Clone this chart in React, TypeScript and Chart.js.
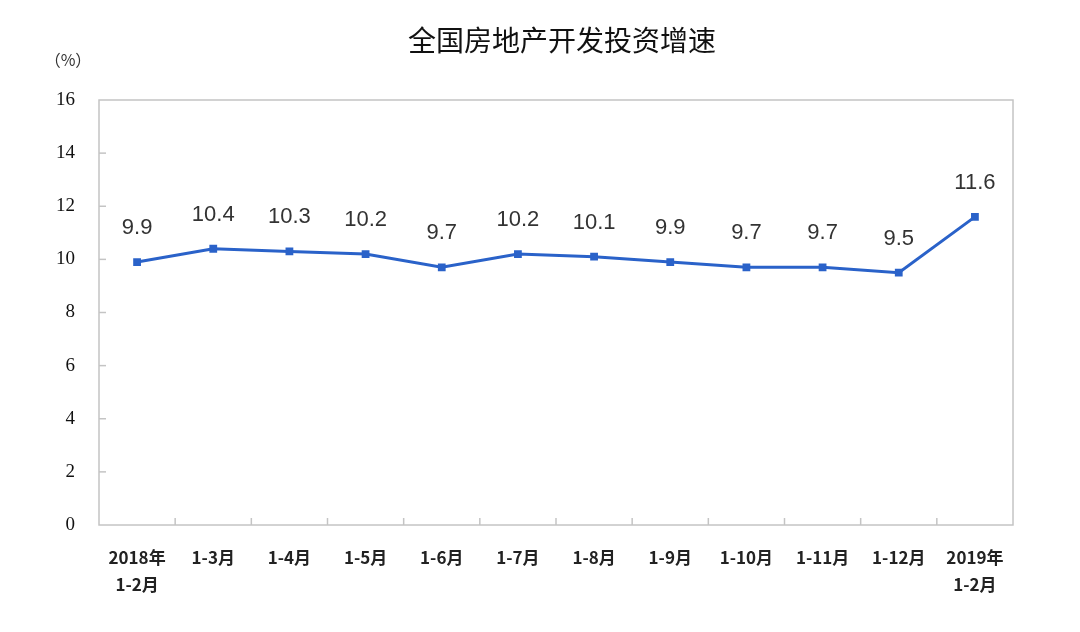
import React, { useEffect, useRef } from "react";
import { Chart, registerables } from "chart.js";

Chart.register(...registerables);

const title = "全国房地产开发投资增速";
const unitLabel = "（%）";
const categories: (string | string[])[] = [
  ["2018年", "1-2月"],
  "1-3月",
  "1-4月",
  "1-5月",
  "1-6月",
  "1-7月",
  "1-8月",
  "1-9月",
  "1-10月",
  "1-11月",
  "1-12月",
  ["2019年", "1-2月"],
];
const growth = [9.9, 10.4, 10.3, 10.2, 9.7, 10.2, 10.1, 9.9, 9.7, 9.7, 9.5, 11.6];
const yTicks = [0, 2, 4, 6, 8, 10, 12, 14, 16];

const BLUE = "#2a62c9";
const AXIS = "#c4c4c4";

const decorPlugin = {
  id: "decor",
  afterDraw(chart: any) {
    const { ctx, chartArea } = chart;
    const x = chart.scales.x;
    const y = chart.scales.y;
    ctx.save();
    // box border
    ctx.strokeStyle = AXIS;
    ctx.lineWidth = 1.5;
    ctx.strokeRect(chartArea.left, chartArea.top, chartArea.right - chartArea.left, chartArea.bottom - chartArea.top);
    // inner tick marks at category boundaries
    const n = categories.length;
    for (let i = 1; i < n; i++) {
      const px = (x.getPixelForValue(i - 1) + x.getPixelForValue(i)) / 2;
      ctx.beginPath();
      ctx.moveTo(px, chartArea.bottom);
      ctx.lineTo(px, chartArea.bottom - 7);
      ctx.stroke();
    }
    // inner tick marks on y axis
    yTicks.forEach((v) => {
      if (v === 0 || v === 16) return;
      const py = y.getPixelForValue(v);
      ctx.beginPath();
      ctx.moveTo(chartArea.left, py);
      ctx.lineTo(chartArea.left + 7, py);
      ctx.stroke();
    });
    // title
    ctx.fillStyle = "#111";
    ctx.font = "normal 28px 'Noto Sans CJK SC'";
    ctx.textAlign = "center";
    ctx.textBaseline = "middle";
    ctx.fillText(title, 562, 40);
    // unit
    ctx.font = "16px 'Noto Sans CJK SC'";
    ctx.fillStyle = "#333";
    ctx.fillText(unitLabel, 68, 60);
    // data labels
    const meta = chart.getDatasetMeta(0);
    ctx.font = "22px 'Liberation Sans'";
    ctx.fillStyle = "#333";
    meta.data.forEach((pt: any, i: number) => {
      ctx.fillText(growth[i].toFixed(1), pt.x, pt.y - 34);
    });
    ctx.restore();
  },
};

export default function App() {
  const ref = useRef<HTMLCanvasElement>(null);
  useEffect(() => {
    document.body.style.margin = "0";
    const chart = new Chart(ref.current!, {
      type: "line",
      data: {
        labels: categories as any,
        datasets: [
          {
            data: growth,
            borderColor: BLUE,
            backgroundColor: BLUE,
            borderWidth: 3,
            pointStyle: "rect",
            pointRadius: 5.5,
            pointBorderWidth: 0,
            tension: 0,
          },
        ],
      },
      options: {
        animation: false,
        responsive: false,
        devicePixelRatio: 1,
        layout: { padding: { top: 100, right: 67, left: 0, bottom: 0 } },
        plugins: { legend: { display: false }, tooltip: { enabled: false }, title: { display: false } },
        scales: {
          x: {
            offset: true,
            grid: { display: false },
            border: { display: false },
            ticks: {
              padding: 11,
              maxRotation: 0,
              autoSkip: false,
              color: "#222",
              font: { family: "'Noto Sans CJK SC'", size: 17, weight: "bold" as any, lineHeight: 1.6 },
            },
            afterFit(scale: any) {
              scale.height = 107;
            },
          },
          y: {
            min: 0,
            max: 16,
            afterBuildTicks(scale: any) {
              scale.ticks = yTicks.map((v) => ({ value: v }));
            },
            grid: { display: false, drawTicks: false },
            border: { display: false },
            ticks: {
              padding: 24,
              color: "#111",
              font: { family: "'Liberation Serif'", size: 19 },
            },
            afterFit(scale: any) {
              scale.width = 99;
            },
          },
        },
      },
      plugins: [decorPlugin],
    });
    return () => chart.destroy();
  }, []);
  return (
    <div style={{ position: "absolute", left: 0, top: 0, width: 1080, height: 632, background: "#fff" }}>
      <canvas ref={ref} width={1080} height={632} style={{ width: 1080, height: 632 }} />
    </div>
  );
}
